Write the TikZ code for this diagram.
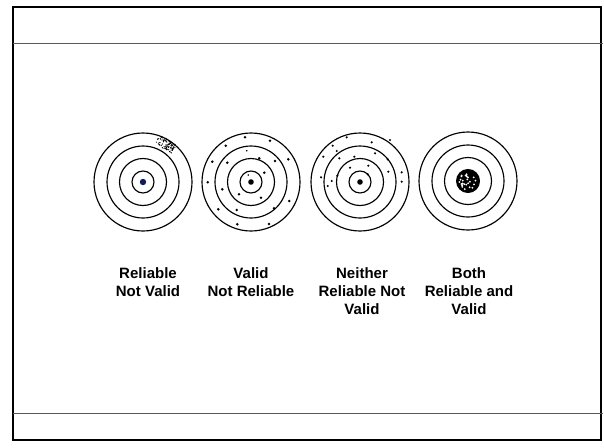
\documentclass[tikz,border=0pt]{standalone}
\usepackage{fontspec}
\setmainfont{Liberation Sans}
\usetikzlibrary{calc}
\begin{document}
\begin{tikzpicture}[x=1pt,y=-1pt,
  ring/.style={draw=black, line width=1.15pt},
  lbl/.style={font=\bfseries\fontsize{15}{17}\selectfont, anchor=base, inner sep=0pt},
  rule/.style={draw=black!65, line width=1pt}]
\useasboundingbox (0,0) rectangle (604,447);
\fill[white] (0,0) rectangle (604,447);
% frame
\draw[line width=2pt] (13,7) rectangle (601,440);
\coordinate (ra) at (13,43); \coordinate (rb) at (603,43);
\coordinate (rc) at (13,413); \coordinate (rd) at (603,413);
\draw[rule] (ra) -- (rb);
\draw[rule] (rc) -- (rd);
% targets
\foreach \n/\cx/\cy in {t1/143/182, t2/251/182, t3/360/182, t4/468/181}{
  \coordinate (\n) at (\cx,\cy);
  \foreach \r in {49,36,23.5}{\draw[ring] (\n) circle[radius=\r];}
}
\foreach \n in {t1,t2,t3}{\draw[ring] (\n) circle[radius=11];}
% target 1: centre dot and cluster
\fill[fill={rgb,255:red,15;green,30;blue,90}] (t1) circle[radius=3.2];
\pgfmathsetseed{11}
\foreach \i in {1,...,100}{
  \pgfmathsetmacro\u{9.5*rand}
  \pgfmathsetmacro\v{5*rand}
  \fill (166+0.86*\u+0.52*\v, 144+0.52*\u-0.86*\v) circle[radius=0.6];
}
% target 2 scatter
\fill (t2) circle[radius=2.8];
\foreach \px/\py in {245/137.3, 270/140.7, 225.7/145.7, 288.3/159.3, 259.3/158.3, 275/161,
  212.3/161.7, 227.3/162.7, 264.3/172.7, 207.7/182.3, 222.3/189.3, 239/194.3, 261/197.7,
  289.3/201, 218.3/209.3, 236.7/210, 274/208.3, 237.3/224.3, 269/224}{
  \fill (\px,\py) circle[radius=1.4];
}
\foreach \px/\py in {246.7/150.7, 248.3/175}{\fill (\px,\py) circle[radius=0.9];}
% target 3 scatter
\fill (t3) circle[radius=2.8];
\foreach \px/\py in {346.7/137.3, 371.7/142.3, 390/140, 332.7/145.7, 336.7/151, 323.3/156.7,
  375/153.3, 339.3/158.3, 354.3/156.7, 387.7/159.3, 350/167.7, 368.3/165.7, 388.3/171.7,
  401.7/172.3, 321/177.3, 337.3/175.7, 367.7/174.3, 331.7/181, 401.7/181.7, 327.7/186}{
  \fill (\px,\py) circle[radius=1.2];
}
% target 4 cluster
\fill (t4) circle[radius=11.5];
\pgfmathsetseed{5}
\foreach \i in {1,...,26}{
  \pgfmathsetmacro\a{360*rnd}
  \pgfmathsetmacro\d{9*sqrt(rnd)}
  \fill[white] ($(t4)+(\a:\d)$) circle[radius=1];
}
\draw[line width=1pt] (t4) circle[radius=11.5];
% labels
\node[lbl] (l1a) at (148,278) {Reliable};
\node[lbl] (l1b) at (148,296) {Not Valid};
\node[lbl] (l2a) at (251,278) {Valid};
\node[lbl] (l2b) at (251,296) {Not Reliable};
\node[lbl] (l3a) at (362,278) {Neither};
\node[lbl] (l3b) at (362,296) {Reliable Not};
\node[lbl] (l3c) at (362,314) {Valid};
\node[lbl] (l4a) at (469,278) {Both};
\node[lbl] (l4b) at (469,296) {Reliable and};
\node[lbl] (l4c) at (469,314) {Valid};
\end{tikzpicture}
\end{document}
